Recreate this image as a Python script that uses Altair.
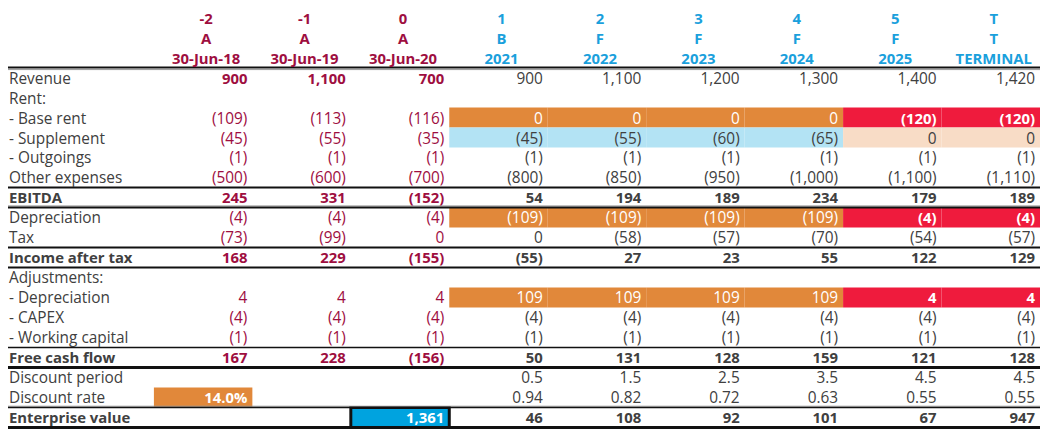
import altair as alt
import pandas as pd

# ---------------- data ----------------
columns = ["30-Jun-18", "30-Jun-19", "30-Jun-20", "2021", "2022", "2023", "2024", "2025", "TERMINAL"]
periods = ["-2", "-1", "0", "1", "2", "3", "4", "5", "T"]
kinds = ["A", "A", "A", "B", "F", "F", "F", "F", "T"]

revenue = [900, 1100, 700, 900, 1100, 1200, 1300, 1400, 1420]
base_rent = [-109, -113, -116, 0, 0, 0, 0, -120, -120]
supplement = [-45, -55, -35, -45, -55, -60, -65, 0, 0]
outgoings = [-1, -1, -1, -1, -1, -1, -1, -1, -1]
other_expenses = [-500, -600, -700, -800, -850, -950, -1000, -1100, -1110]
ebitda = [245, 331, -152, 54, 194, 189, 234, 179, 189]
depreciation = [-4, -4, -4, -109, -109, -109, -109, -4, -4]
tax = [-73, -99, 0, 0, -58, -57, -70, -54, -57]
income_after_tax = [168, 229, -155, -55, 27, 23, 55, 122, 129]
adj_depreciation = [4, 4, 4, 109, 109, 109, 109, 4, 4]
capex = [-4, -4, -4, -4, -4, -4, -4, -4, -4]
working_capital = [-1, -1, -1, -1, -1, -1, -1, -1, -1]
free_cash_flow = [167, 228, -156, 50, 131, 128, 159, 121, 128]
discount_period = [None, None, None, 0.5, 1.5, 2.5, 3.5, 4.5, 4.5]
discount_factor = [None, None, None, 0.94, 0.82, 0.72, 0.63, 0.55, 0.55]
discount_rate = 0.14
enterprise_value_total = 1361
enterprise_value = [None, None, None, 46, 108, 92, 101, 67, 947]

rows = [
    ("Revenue", revenue, "int"),
    ("Rent:", None, None),
    ("- Base rent", base_rent, "int"),
    ("- Supplement", supplement, "int"),
    ("- Outgoings", outgoings, "int"),
    ("Other expenses", other_expenses, "int"),
    ("EBITDA", ebitda, "int"),
    ("Depreciation", depreciation, "int"),
    ("Tax", tax, "int"),
    ("Income after tax", income_after_tax, "int"),
    ("Adjustments:", None, None),
    ("- Depreciation", adj_depreciation, "int"),
    ("- CAPEX", capex, "int"),
    ("- Working capital", working_capital, "int"),
    ("Free cash flow", free_cash_flow, "int"),
    ("Discount period", discount_period, "d1"),
    ("Discount rate", discount_factor, "d2"),
    ("Enterprise value", enterprise_value, "int"),
]
bold_rows = ["EBITDA", "Income after tax", "Free cash flow", "Enterprise value"]

# ---------------- styles ----------------
DARK_RED = "#9E0E3F"
BLUE_HDR = "#1AA0DC"
GREY = "#404040"
WHITE = "#FFFFFF"
ORANGE = "#E1883A"
RED = "#EF1B3D"
LIGHT_BLUE = "#B3E3F4"
PEACH = "#F8DCC6"
EV_BLUE = "#00A3DF"
BLACK = "#111111"
LINE_GREY = "#9A9A9A"
FONT = "Open Sans"
FS_REG = 15.5
FS_BOLD = 15
FS_HDR = 15

highlights = [
    ("- Base rent", [3, 4, 5, 6], ORANGE), ("- Base rent", [7, 8], RED),
    ("- Supplement", [3, 4, 5, 6], LIGHT_BLUE), ("- Supplement", [7, 8], PEACH),
    ("Depreciation", [3, 4, 5, 6], ORANGE), ("Depreciation", [7, 8], RED),
    ("- Depreciation", [3, 4, 5, 6], ORANGE), ("- Depreciation", [7, 8], RED),
    ("Discount rate", [0], ORANGE),
    ("Enterprise value", [2], EV_BLUE),
]

HDR = 3  # header rows
row_index = {lab: i + HDR for i, (lab, _, _) in enumerate(rows)}
fill_at = {}
for lab, cols, f in highlights:
    for c in cols:
        fill_at[(row_index[lab], c)] = f


def fmt(v, kind):
    if v is None:
        return None
    if kind == "d1":
        return f"{v:.1f}"
    if kind == "d2":
        return f"{v:.2f}"
    s = f"{abs(v):,.0f}"
    return f"({s})" if v < 0 else s


# ---------------- build tables ----------------
cells = []
for c in range(len(columns)):
    col = DARK_RED if c < 3 else BLUE_HDR
    for r, arr in enumerate([periods, kinds, columns]):
        cells.append(dict(x=c + 0.5, y=r, text=arr[c], color=col, bold=True, kind="header"))

for lab, vals, kind in rows:
    r = row_index[lab]
    bold = lab in bold_rows
    cells.append(dict(x=-99, y=r, text=lab, color=GREY, bold=bold, kind="label"))
    if vals is None:
        continue
    entries = [(c, fmt(v, kind)) for c, v in enumerate(vals)]
    if lab == "Discount rate":
        entries[0] = (0, f"{discount_rate * 100:.1f}%")
    if lab == "Enterprise value":
        entries[2] = (2, f"{enterprise_value_total:,}")
    for c, t in entries:
        if t is None:
            continue
        f = fill_at.get((r, c))
        col = DARK_RED if c < 3 else GREY
        b = bold
        if lab == "Revenue" and c < 3:
            b = True
        if f == ORANGE:
            col = WHITE
            b = b or lab == "Discount rate"
        elif f in (RED, EV_BLUE):
            col = WHITE
            b = True
        cells.append(dict(x=c + 1, y=r, text=t, color=col, bold=b, kind="value"))

cell_df = pd.DataFrame(cells)

X_MIN, X_MAX = -1.482, 9.0
Y_TOP, Y_BOT = -0.397, 21.096
cell_df.loc[cell_df.kind == "label", "x"] = X_MIN

fill_df = pd.DataFrame(
    [dict(x0=c, x1=c + 1, y0=r - 0.5, y1=r + 0.5, fill=f) for (r, c), f in fill_at.items()]
)
ev_df = fill_df[fill_df.fill == EV_BLUE]

# borders: (boundary row, colour, width)
rule_specs = [
    (2.5, BLACK, 2), (2.6, LINE_GREY, 1),
    (8.5, BLACK, 2),
    (9.42, LINE_GREY, 1), (9.5, BLACK, 2),
    (11.5, BLACK, 2),
    (12.5, BLACK, 2),
    (16.5, BLACK, 1.5),
    (17.5, BLACK, 3),
    (19.44, LINE_GREY, 1), (19.5, BLACK, 1.5),
    (20.5, BLACK, 3),
]
rule_df = pd.DataFrame([dict(y=y, c=c, w=w, x0=X_MIN, x1=X_MAX) for y, c, w in rule_specs])

xs = alt.Scale(domain=[X_MIN, X_MAX], nice=False, zero=False)
ys = alt.Scale(domain=[Y_BOT, Y_TOP], nice=False, zero=False)

fills = alt.Chart(fill_df).mark_rect().encode(
    x=alt.X("x0:Q", scale=xs, axis=None), x2="x1:Q",
    y=alt.Y("y0:Q", scale=ys, axis=None), y2="y1:Q",
    color=alt.Color("fill:N", scale=None),
)
ev_box = alt.Chart(ev_df).mark_rect(fillOpacity=0, stroke=BLACK, strokeWidth=3).encode(
    x=alt.X("x0:Q", scale=xs, axis=None), x2="x1:Q",
    y=alt.Y("y0:Q", scale=ys, axis=None), y2="y1:Q",
)
rules = alt.Chart(rule_df).mark_rule().encode(
    x=alt.X("x0:Q", scale=xs, axis=None), x2="x1:Q",
    y=alt.Y("y:Q", scale=ys, axis=None),
    color=alt.Color("c:N", scale=None),
    strokeWidth=alt.StrokeWidth("w:Q", scale=None),
)

base = alt.Chart(cell_df).encode(
    x=alt.X("x:Q", scale=xs, axis=None),
    y=alt.Y("y:Q", scale=ys, axis=None),
    text="text:N",
    color=alt.Color("color:N", scale=None),
)


def txt(kind, bold, align, dx, size):
    return base.transform_filter(
        (alt.datum.kind == kind) & (alt.datum.bold == bold)
    ).mark_text(align=align, baseline="middle", dx=dx, dy=1, font=FONT, fontSize=size,
                fontWeight="bold" if bold else "normal")


layers = [
    fills, ev_box, rules,
    txt("label", False, "left", 1, FS_REG), txt("label", True, "left", 1, FS_BOLD),
    txt("header", True, "center", 3, FS_HDR),
    txt("value", False, "right", -5, FS_REG), txt("value", True, "right", -5, FS_BOLD),
]

chart = alt.layer(*layers).properties(
    width=1040, height=433, padding=0,
    autosize=alt.AutoSizeParams(type="none"),
).configure_view(stroke=None)

chart.save("out.html", embed_options={"renderer": "svg", "actions": False})
